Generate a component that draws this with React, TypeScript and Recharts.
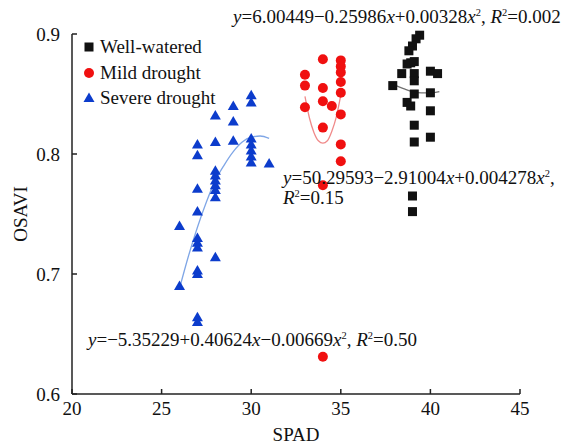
import React from 'react';
import { ScatterChart, Scatter, XAxis, YAxis } from 'recharts';

document.body.style.margin = '0';

const FONT = '"Liberation Serif", "Times New Roman", serif';

// SPAD / OSAVI readings per treatment
const wellWateredX = [39.4, 39.2, 39.0, 38.8, 38.9, 38.7, 39.1, 38.4, 39.1, 39.1, 40.0, 40.4, 37.9, 39.1, 40.0, 38.7, 38.9, 40.0, 39.1, 39.1, 40.0, 39.0, 39.0];
const wellWateredY = [0.899, 0.896, 0.890, 0.886, 0.876, 0.875, 0.877, 0.867, 0.867, 0.861, 0.869, 0.867, 0.857, 0.850, 0.851, 0.843, 0.840, 0.836, 0.824, 0.810, 0.814, 0.765, 0.752];

const mildX = [33, 33, 33, 34, 34, 34, 34, 34, 34, 34.5, 35, 35, 35, 35, 35, 35, 35, 35];
const mildY = [0.866, 0.857, 0.839, 0.879, 0.855, 0.844, 0.822, 0.774, 0.631, 0.840, 0.878, 0.873, 0.868, 0.860, 0.851, 0.833, 0.808, 0.794];

const severeX = [26, 26, 27, 27, 27, 27, 27, 27, 27, 27, 27, 27, 27, 28, 28, 28, 28, 28, 28, 28, 28, 28, 29, 29, 29, 30, 30, 30, 30, 30, 30, 30, 31];
const severeY = [0.740, 0.690, 0.808, 0.799, 0.771, 0.752, 0.730, 0.726, 0.722, 0.703, 0.700, 0.664, 0.660, 0.832, 0.810, 0.786, 0.782, 0.778, 0.774, 0.770, 0.764, 0.714, 0.840, 0.827, 0.811, 0.849, 0.843, 0.813, 0.808, 0.803, 0.798, 0.793, 0.792];

// fitted curves
const wellFitX = [37.9, 38.5, 39.0, 39.5, 40.0, 40.5];
const wellFitY = [0.858, 0.8545, 0.852, 0.851, 0.851, 0.852];
const mildFitX = [33.0, 33.25, 33.5, 33.75, 34.0, 34.25, 34.5, 34.75, 35.0];
const mildFitY = [0.848, 0.830, 0.818, 0.811, 0.809, 0.811, 0.819, 0.831, 0.849];
const severeFitX = [26, 26.5, 27, 27.5, 28, 28.5, 29, 29.5, 30, 30.5, 31];
const severeFitY = [0.688, 0.715, 0.739, 0.760, 0.778, 0.791, 0.802, 0.810, 0.814, 0.815, 0.813];

const xTicks = [20, 25, 30, 35, 40, 45];
const yTicks = [0.6, 0.7, 0.8, 0.9];

const zip = (xs: number[], ys: number[]) => xs.map((x, i) => ({ x, y: ys[i] }));

const squareShape = (color: string) => (p: any) => (
  <rect x={p.cx - 4.5} y={p.cy - 4.5} width={9} height={9} fill={color} />
);
const circleShape = (color: string) => (p: any) => (
  <circle cx={p.cx} cy={p.cy} r={5} fill={color} />
);
const triangleShape = (color: string) => (p: any) => (
  <polygon points={`${p.cx},${p.cy - 5.5} ${p.cx + 5.5},${p.cy + 4} ${p.cx - 5.5},${p.cy + 4}`} fill={color} />
);

const series = [
  { name: 'Well-watered', color: '#111111', icon: 'square', data: zip(wellWateredX, wellWateredY), shape: squareShape('#111111') },
  { name: 'Mild drought', color: '#f01010', icon: 'circle', data: zip(mildX, mildY), shape: circleShape('#f01010') },
  { name: 'Severe drought', color: '#0c3ccc', icon: 'triangle', data: zip(severeX, severeY), shape: triangleShape('#0c3ccc') },
];

const fits = [
  { data: zip(wellFitX, wellFitY), color: '#707070' },
  { data: zip(mildFitX, mildFitY), color: '#f08a8a' },
  { data: zip(severeFitX, severeFitY), color: '#7fa6e6' },
];

const Sup = ({ children }: { children: React.ReactNode }) => (
  <sup style={{ fontSize: '0.55em', verticalAlign: '0.7em', lineHeight: 0 }}>{children}</sup>
);

const eqStyle: React.CSSProperties = {
  position: 'absolute',
  fontFamily: FONT,
  fontSize: 19,
  lineHeight: '20px',
  color: '#111',
  whiteSpace: 'nowrap',
};

function LegendIcon({ icon, color }: { icon: string; color: string }) {
  return (
    <svg width={12} height={12} style={{ position: 'absolute', left: -6, top: 4 }}>
      {icon === 'square' && <rect x={1.5} y={1.5} width={9} height={9} fill={color} />}
      {icon === 'circle' && <circle cx={6} cy={6} r={5} fill={color} />}
      {icon === 'triangle' && <polygon points="6,0.5 11.5,10 0.5,10" fill={color} />}
    </svg>
  );
}

export default function App() {
  return (
    <div style={{ position: 'relative', width: 572, height: 448, background: '#fff' }}>
      <ScatterChart width={572} height={448} margin={{ top: 34, right: 52, left: 0, bottom: 0 }}>
        <XAxis
          type="number"
          dataKey="x"
          domain={[20, 45]}
          ticks={xTicks}
          height={54}
          tickSize={-5}
          tickMargin={13}
          axisLine={{ stroke: '#222', strokeWidth: 1.5 }}
          tickLine={{ stroke: '#222', strokeWidth: 1.5 }}
          tick={{ fill: '#111', fontSize: 19, fontFamily: FONT }}
          label={{ value: 'SPAD', position: 'insideBottom', offset: 7, fill: '#111', fontSize: 19, fontFamily: FONT }}
        />
        <YAxis
          type="number"
          dataKey="y"
          domain={[0.6, 0.9]}
          ticks={yTicks}
          width={72}
          tickSize={-5}
          tickMargin={17}
          tickFormatter={(v: number) => v.toFixed(1)}
          axisLine={{ stroke: '#222', strokeWidth: 1.5 }}
          tickLine={{ stroke: '#222', strokeWidth: 1.5 }}
          tick={{ fill: '#111', fontSize: 19, fontFamily: FONT }}
          label={{
            content: () => (
              <text x={20} y={214} transform="rotate(-90 20 214)" textAnchor="middle" dominantBaseline="central" fill="#111" fontSize={19} fontFamily={FONT}>
                OSAVI
              </text>
            ),
          }}
        />
        {fits.map((f, i) => (
          <Scatter
            key={'fit' + i}
            data={f.data}
            line={{ stroke: f.color, strokeWidth: 1.3 }}
            lineType="joint"
            lineJointType="monotoneX"
            shape={() => <g />}
            isAnimationActive={false}
          />
        ))}
        {series.map((s) => (
          <Scatter key={s.name} name={s.name} data={s.data} fill={s.color} shape={s.shape} isAnimationActive={false} />
        ))}
      </ScatterChart>

      {series.map((s, i) => (
        <div key={s.name} style={{ position: 'absolute', left: 89, top: 37 + i * 25.5, height: 20 }}>
          <LegendIcon icon={s.icon} color={s.color} />
          <span style={{ position: 'absolute', left: 11, top: 0, fontFamily: FONT, fontSize: 19, lineHeight: '20px', color: '#111', whiteSpace: 'nowrap' }}>
            {s.name}
          </span>
        </div>
      ))}

      <div style={{ ...eqStyle, left: 233, top: 7 }}>
        <i>y</i>=6.00449−0.25986<i>x</i>+0.00328<i>x</i><Sup>2</Sup>, <i>R</i><Sup>2</Sup>=0.002
      </div>
      <div style={{ ...eqStyle, left: 283, top: 168 }}>
        <i>y</i>=50.29593−2.91004<i>x</i>+0.004278<i>x</i><Sup>2</Sup>,
        <br />
        <i>R</i><Sup>2</Sup>=0.15
      </div>
      <div style={{ ...eqStyle, left: 88, top: 330 }}>
        <i>y</i>=−5.35229+0.40624<i>x</i>−0.00669<i>x</i><Sup>2</Sup>, <i>R</i><Sup>2</Sup>=0.50
      </div>
    </div>
  );
}
